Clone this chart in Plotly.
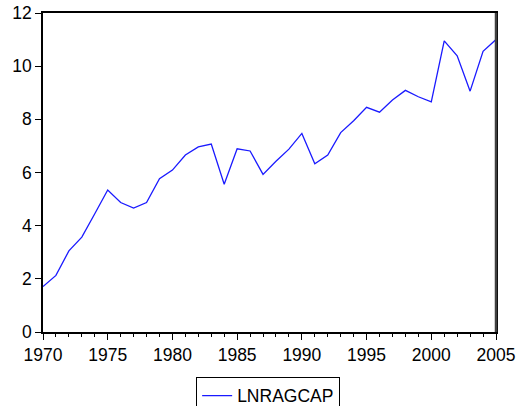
import plotly.graph_objects as go

years = list(range(1970, 2006))
lnragcap = [1.71, 2.13, 3.05, 3.57, 4.45, 5.34, 4.87, 4.66, 4.87, 5.77,
            6.09, 6.66, 6.96, 7.07, 5.56, 6.89, 6.81, 5.93, 6.42, 6.88,
            7.47, 6.33, 6.66, 7.50, 7.95, 8.45, 8.27, 8.73, 9.09, 8.85,
            8.66, 10.95, 10.39, 9.06, 10.56, 11.00]
y_ticks = [0, 2, 4, 6, 8, 10, 12]
x_ticks = [1970, 1975, 1980, 1985, 1990, 1995, 2000, 2005]

fig = go.Figure()
fig.add_trace(go.Scatter(x=years, y=lnragcap, mode="lines", name="LNRAGCAP",
                         line=dict(color="#1a1aff", width=1.3)))

font = dict(family="Liberation Sans, Arial, sans-serif", size=17.5, color="black")
fig.update_layout(
    width=519, height=406,
    margin=dict(l=43, r=23, t=13, b=74, autoexpand=False),
    paper_bgcolor="white", plot_bgcolor="white",
    font=font,
    showlegend=True,
    legend=dict(x=0.497, xanchor="center", y=-0.14, yanchor="top",
                bordercolor="black", borderwidth=1, font=font,
                bgcolor="white", entrywidth=124, entrywidthmode="pixels"),
)
fig.update_xaxes(range=[1970, 2005], tickvals=x_ticks, ticks="outside",
                 ticklen=6, tickwidth=1, tickcolor="black",
                 showgrid=False, zeroline=False, automargin=False,
                 showline=True, linecolor="black", linewidth=1.5, mirror=True,
                 minor=dict(dtick=1, tick0=1970, ticks="outside", ticklen=3,
                            tickcolor="black", showgrid=False),
                 tickfont=font)
fig.update_yaxes(range=[0, 12], tickvals=y_ticks, ticks="outside",
                 ticklen=6, tickwidth=1, tickcolor="black",
                 showgrid=False, zeroline=False, automargin=False,
                 showline=True, linecolor="black", linewidth=1.5, mirror=True,
                 tickfont=font)
fig.add_shape(type="line", xref="paper", yref="paper", x0=1, x1=1, y0=0, y1=1,
              line=dict(color="#404040", width=2.5))
fig.write_html("out.html", config={"displayModeBar": False},
               post_script="document.body.style.margin='0';document.body.style.overflow='hidden';")
